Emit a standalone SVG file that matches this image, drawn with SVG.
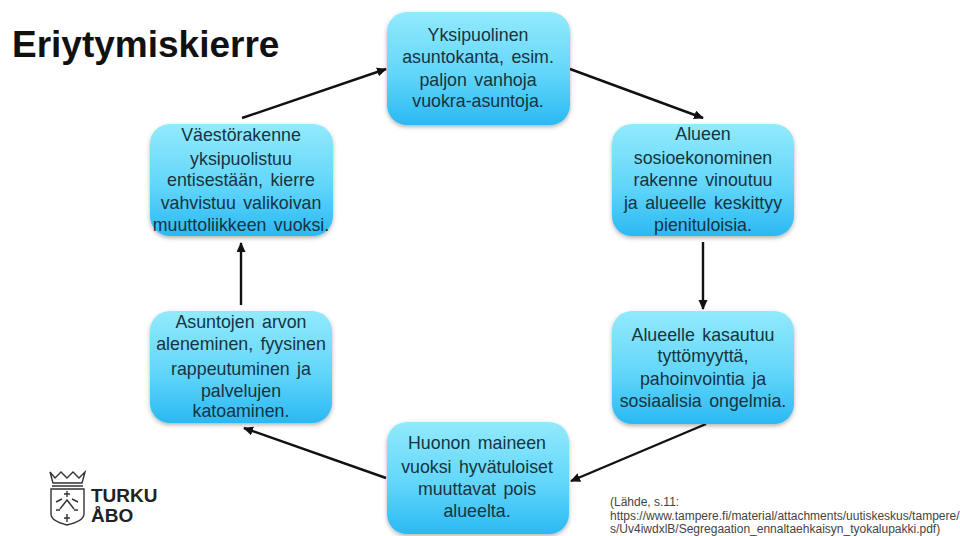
<svg xmlns="http://www.w3.org/2000/svg" width="960" height="536" viewBox="0 0 960 536">
<style>
.box{fill:url(#g);filter:url(#s)}
.t{font-family:"Liberation Sans",Arial,sans-serif;font-size:17.8px;word-spacing:2.5px;fill:#17343f;text-anchor:middle}
.c{fill:none;stroke:#111;stroke-width:2.4;marker-end:url(#a)}
.src{font-family:"Liberation Sans",Arial,sans-serif;font-size:12px;fill:#444}
.logo{fill:none;stroke:#333;stroke-width:1.4}
.lt{font-family:"Liberation Sans",Arial,sans-serif;font-size:19px;font-weight:700;fill:#222}
</style>
<defs>
<linearGradient id="g" x1="0" y1="0" x2="0" y2="1"><stop offset="0" stop-color="#92eafc"/><stop offset=".55" stop-color="#62d6fa"/><stop offset="1" stop-color="#2ab9f3"/></linearGradient>
<filter id="s" x="-10%" y="-10%" width="120%" height="125%"><feDropShadow dx="0" dy="2" stdDeviation="2" flood-color="#000" flood-opacity=".3"/></filter>
<marker id="a" markerUnits="userSpaceOnUse" markerWidth="11" markerHeight="10" refX="9" refY="4.5" orient="auto"><path d="M0 0L10 4.5L0 9z" fill="#111"/></marker>
</defs>
<rect width="960" height="536" fill="#fff"/>
<text x="12" y="57" font-family="Liberation Sans,Arial,sans-serif" font-size="37" font-weight="700" fill="#111">Eriytymiskierre</text>
<g id="connectors">
<path class="c" d="M570 69L703 118"/>
<path class="c" d="M703 242V309"/>
<path class="c" d="M706 424L571 481"/>
<path class="c" d="M386 478L244 428"/>
<path class="c" d="M241 305V243"/>
<path class="c" d="M242 118L386 69"/>
</g>
<g id="n1"><rect class="box" x="387" y="12" width="183" height="113" rx="20"/><text class="t"><tspan x="478" y="41">Yksipuolinen</tspan><tspan x="478" y="63">asuntokanta, esim.</tspan><tspan x="478" y="86">paljon vanhoja</tspan><tspan x="478" y="107">vuokra-asuntoja.</tspan></text></g>
<g id="n2"><rect class="box" x="612" y="124" width="182" height="112" rx="20"/><text class="t"><tspan x="703" y="140">Alueen</tspan><tspan x="703" y="164">sosioekonominen</tspan><tspan x="703" y="186">rakenne vinoutuu</tspan><tspan x="703" y="209">ja alueelle keskittyy</tspan><tspan x="703" y="231">pienituloisia.</tspan></text></g>
<g id="n3"><rect class="box" x="612" y="311" width="182" height="113" rx="20"/><text class="t"><tspan x="703" y="341">Alueelle kasautuu</tspan><tspan x="703" y="362">tyttömyyttä,</tspan><tspan x="703" y="385">pahoinvointia ja</tspan><tspan x="703" y="407">sosiaalisia ongelmia.</tspan></text></g>
<g id="n4"><rect class="box" x="387" y="422" width="182" height="112" rx="20"/><text class="t"><tspan x="477" y="449">Huonon maineen</tspan><tspan x="477" y="473">vuoksi hyvätuloiset</tspan><tspan x="477" y="495">muuttavat pois</tspan><tspan x="477" y="517">alueelta.</tspan></text></g>
<g id="n5"><rect class="box" x="150" y="311" width="182" height="112" rx="20"/><text class="t"><tspan x="241" y="328">Asuntojen arvon</tspan><tspan x="241" y="350">aleneminen, fyysinen</tspan><tspan x="241" y="375">rappeutuminen ja</tspan><tspan x="241" y="397">palvelujen</tspan><tspan x="241" y="417">katoaminen.</tspan></text></g>
<g id="n6"><rect class="box" x="150" y="124" width="183" height="112" rx="20"/><text class="t"><tspan x="241" y="141">Väestörakenne</tspan><tspan x="241" y="165">yksipuolistuu</tspan><tspan x="241" y="186">entisestään, kierre</tspan><tspan x="241" y="209">vahvistuu valikoivan</tspan><tspan x="241" y="231">muuttoliikkeen vuoksi.</tspan></text></g>
<g id="logo">
<path class="logo" d="M50 472L55 478L61 472L67 478L73 472L79 478L85 472L82 483H53ZM52 486H83"/>
<path class="logo" d="M51 489H84V514Q84 521 67 525Q51 521 51 514Z"/>
<path class="logo" stroke-width="2.2" d="M60 509L67 500L74 509M67 491V497M67 514V522M64 494H70M64 518H70M56 502L62 499M78 502L72 499M56 510H60M74 510H78"/>
<text class="lt" x="91" y="502">TURKU</text>
<text class="lt" x="91" y="522">ÅBO</text>
</g>
<text class="src"><tspan x="610" y="506">(Lähde, s.11:</tspan><tspan x="610" y="520">https://www.tampere.fi/material/attachments/uutiskeskus/tampere/</tspan><tspan x="610" y="533">s/Uv4iwdxlB/Segregaation_ennaltaehkaisyn_tyokalupakki.pdf)</tspan></text>
</svg>
